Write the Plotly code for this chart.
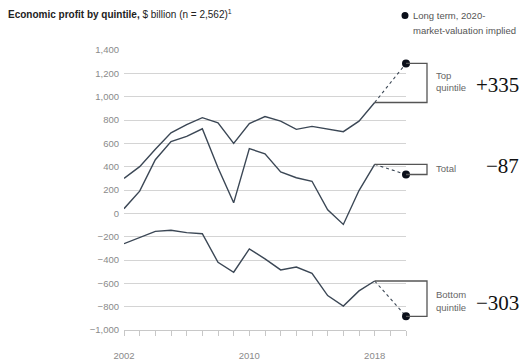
import plotly.graph_objects as go

# Economic profit by quintile, $ billion, 2002-2018
years = list(range(2002, 2019))
top_quintile = [300, 400, 550, 690, 760, 820, 775, 600, 770, 830, 790, 720, 745, 720, 700, 790, 950]
total = [40, 190, 460, 615, 660, 725, 390, 90, 555, 510, 355, 305, 275, 30, -95, 195, 420]
bottom_quintile = [-260, -210, -155, -145, -165, -175, -420, -505, -305, -390, -485, -460, -515, -705, -795, -665, -580]

# Long-term economic profit implied by 2020 market valuation (change vs 2018)
implied_year = 2020
top_change = 335
total_change = -87
bottom_change = -303

x_tick_years = [2002, 2010, 2018]
y_ticks = [-1000, -800, -600, -400, -200, 0, 200, 400, 600, 800, 1000, 1200, 1400]

LINE = "#3b4755"
DOT = "#0b0f1a"
GRID = "#d4d4d4"
TICKTXT = "#8a8a8a"
LABEL = "#666666"
FONT = "Liberation Sans, Arial, sans-serif"
SERIF = "Liberation Serif, Times New Roman, serif"

W, H = 525, 364
L, R, T, B = 124, 406, 50, 330  # plot area in pixels


def px(xp):
    return (xp - L) / (R - L)


def py(yp):
    return (B - yp) / (B - T)


fig = go.Figure()

series = [
    ("Top quintile", top_quintile, top_change),
    ("Total", total, total_change),
    ("Bottom quintile", bottom_quintile, bottom_change),
]

shapes = []
bracket_x = px(427)
end_x = px(R)
last_x = (years[-1] - years[0]) / (implied_year - years[0])

for name, vals, change in series:
    fig.add_trace(go.Scatter(
        x=years, y=vals, mode="lines", name=name,
        line=dict(color=LINE, width=1.4), showlegend=False, hoverinfo="skip",
    ))
    implied = vals[-1] + change
    fig.add_trace(go.Scatter(
        x=[years[-1], implied_year], y=[vals[-1], implied], mode="lines",
        line=dict(color=LINE, width=1.1, dash="dot"), showlegend=False, hoverinfo="skip",
    ))
    fig.add_trace(go.Scatter(
        x=[implied_year], y=[implied], mode="markers", cliponaxis=False,
        marker=dict(color=DOT, size=8), showlegend=False, hoverinfo="skip",
    ))
    # bracket joining the 2018 level and the implied level
    shapes.append(dict(
        type="path", xref="paper", yref="y",
        path=f"M {last_x} {vals[-1]} L {bracket_x} {vals[-1]} L {bracket_x} {implied} L {end_x} {implied}",
        line=dict(color="#555555", width=1.3),
    ))

# legend dot
shapes.append(dict(
    type="circle", xref="paper", yref="paper", xsizemode="pixel", ysizemode="pixel",
    xanchor=px(405), yanchor=py(15.5), x0=-3.5, x1=3.5, y0=-3.5, y1=3.5,
    fillcolor=DOT, line=dict(width=0),
))

annotations = []


def text(xp, yp, s, size=9.5, color=LABEL, family=FONT, xanchor="left"):
    annotations.append(dict(
        xref="paper", yref="paper", x=px(xp), y=py(yp), text=s, showarrow=False,
        xanchor=xanchor, yanchor="middle", font=dict(size=size, color=color, family=family),
    ))


text(6, 14, "<b>Economic profit by quintile,</b> $ billion (n = 2,562)<sup>1</sup>", size=10, color="#222222")
text(411, 15, "Long term, 2020-", color="#555555")
text(411, 30, "market-valuation implied", color="#555555")

text(434, 75, "Top")
text(434, 88, "quintile")
text(434, 168, "Total")
text(434, 294, "Bottom")
text(434, 307, "quintile")


def signed(v):
    return f"+{v}" if v > 0 else f"\u2212{abs(v)}"


text(521, 85, signed(top_change), size=21, color="#111111", family=SERIF, xanchor="right")
text(521, 166, signed(total_change), size=21, color="#111111", family=SERIF, xanchor="right")
text(521, 303, signed(bottom_change), size=21, color="#111111", family=SERIF, xanchor="right")

fig.update_layout(
    width=W, height=H,
    margin=dict(l=L, r=W - R, t=T, b=H - B, pad=0),
    paper_bgcolor="white", plot_bgcolor="white",
    font=dict(family=FONT, size=9.5, color=TICKTXT),
    shapes=shapes, annotations=annotations,
    showlegend=False,
)

fig.update_xaxes(
    range=[years[0], implied_year], tickmode="array",
    tickvals=x_tick_years, ticktext=[str(y) for y in x_tick_years],
    ticks="outside", ticklen=5, tickcolor="#c8c8c8", tickwidth=1,
    minor=dict(ticks="outside", ticklen=5, tickcolor="#c8c8c8", tickwidth=1,
               tick0=years[0], dtick=1, showgrid=False),
    showline=True, linecolor="#c8c8c8", linewidth=1,
    showgrid=False, zeroline=False, ticklabelstandoff=12, automargin=False,
    tickfont=dict(size=9.5, color=TICKTXT),
)
fig.update_yaxes(
    range=[-1000, 1400], tickmode="array", tickvals=y_ticks, tickformat=",",
    showgrid=True, gridcolor=GRID, gridwidth=1.2, zeroline=False,
    ticks="", showline=False, ticklabelstandoff=4, automargin=False,
    tickfont=dict(size=9.5, color=TICKTXT),
)

fig.write_html("out.html")
